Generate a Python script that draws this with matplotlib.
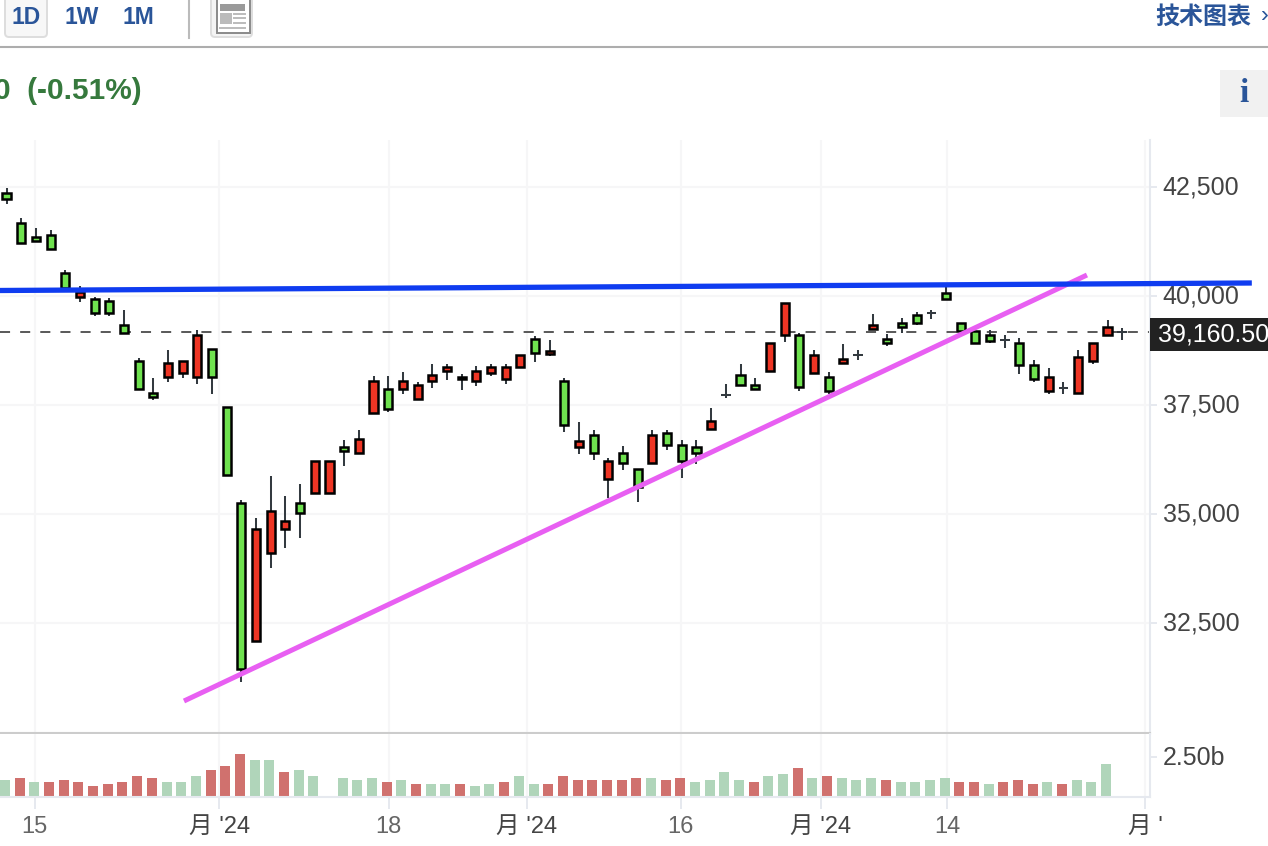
import matplotlib
matplotlib.use('Agg')
import matplotlib.pyplot as plt
from matplotlib.patches import Rectangle, FancyBboxPatch
from matplotlib.transforms import ScaledTranslation

plt.rcParams['font.family'] = ['Liberation Sans', 'Noto Sans CJK SC', 'DejaVu Sans']

# =============================================================================
# Daily candles
# =============================================================================
opens = [42350, 41660, 41340, 41390, 40520, 39970, 39920, 39880, 39330, 38500,
         37770, 38140, 38230, 38140, 38780, 37450, 35250, 32090, 34100, 34650,
         35250, 35480, 35480, 36530, 36400, 37310, 37860, 37860, 37630, 38040,
         38270, 38090, 38040, 38230, 38090, 38370, 39010, 38660, 38040, 36530,
         36810, 35800, 36400, 36030, 36170, 36850, 36580, 36530, 36950, 37720,
         38180, 37950, 38270, 39100, 39100, 38230, 38140, 38460, 38640, 39240,
         39010, 39370, 39560, 39600, 40060, 39370, 39190, 39100, 38980, 38920,
         38410, 37820, 37880, 37770, 38500, 39100, 39160]
closes = [42210, 41210, 41250, 41070, 40180, 40080, 39600, 39600, 39140, 37860,
          37680, 38460, 38500, 39100, 38140, 35890, 31450, 34650, 35070, 34840,
          35020, 36210, 36210, 36440, 36720, 38040, 37400, 38040, 37950, 38180,
          38370, 38140, 38270, 38370, 38370, 38640, 38690, 38730, 37040, 36670,
          36400, 36210, 36170, 35620, 36810, 36580, 36210, 36400, 37130, 37720,
          37950, 37860, 38920, 39830, 37910, 38640, 37820, 38550, 38640, 39330,
          38920, 39280, 39370, 39600, 39920, 39190, 38920, 38960, 38980, 38410,
          38090, 38140, 37880, 38590, 38920, 39280, 39160]
highs = [42470, 41780, 41550, 41500, 40590, 40220, 39970, 39950, 39670, 38570,
         38110, 38750, 38500, 39210, 38780, 37450, 35320, 34910, 35870, 35410,
         35690, 36210, 36210, 36690, 36920, 38160, 38160, 38250, 38020, 38430,
         38430, 38200, 38390, 38430, 38430, 38640, 39080, 38980, 38110, 37100,
         36920, 36280, 36560, 36030, 36920, 36920, 36690, 36690, 37430, 37980,
         38430, 38110, 38920, 39830, 39140, 38750, 38250, 38890, 38750, 39580,
         39120, 39490, 39620, 39670, 40220, 39370, 39190, 39210, 39100, 39030,
         38520, 38340, 38020, 38750, 38920, 39440, 39260]
lows = [42100, 41210, 41250, 41070, 40180, 39850, 39530, 39530, 39140, 37860,
        37610, 38020, 38110, 37980, 37750, 35890, 31150, 32090, 33760, 34220,
        34450, 35480, 35480, 36100, 36400, 37310, 37330, 37750, 37630, 37880,
        38070, 37840, 37930, 38160, 37980, 38370, 38480, 38620, 36880, 36370,
        36230, 35360, 36000, 35270, 36170, 36460, 35820, 36140, 36950, 37650,
        37950, 37860, 38270, 38940, 37820, 38230, 37750, 38460, 38520, 39240,
        38850, 39140, 39330, 39470, 39920, 39190, 38920, 38920, 38800, 38200,
        38020, 37750, 37750, 37770, 38430, 39100, 38980]

# volume in billions, 0 where no bar is drawn
volumes = [1.08, 1.21, 0.95, 0.95, 1.08, 0.95, 0.70, 0.83, 0.95, 1.33,
           1.21, 0.95, 0.95, 1.33, 1.72, 1.97, 2.73, 2.35, 2.35, 1.59,
           1.72, 1.33, 0, 1.21, 1.08, 1.21, 0.95, 1.08, 0.83, 0.83,
           0.83, 0.83, 0.70, 0.83, 0.95, 1.33, 0.83, 0.83, 1.33, 1.08,
           1.08, 1.08, 1.08, 1.21, 1.21, 1.08, 1.21, 0.95, 1.08, 1.59,
           1.08, 0.95, 1.33, 1.46, 1.84, 1.21, 1.33, 1.21, 1.08, 1.21,
           1.08, 0.95, 0.95, 1.08, 1.21, 0.95, 0.95, 0.83, 0.95, 1.08,
           0.83, 0.95, 0.83, 1.08, 0.95, 2.10, 0]
volume_up = [0, 1, 0, 1, 1, 1, 1, 1, 1, 1,
             1, 0, 0, 0, 1, 1, 1, 0, 0, 1,
             0, 0, 0, 0, 0, 0, 1, 0, 1, 0,
             0, 1, 0, 0, 1, 0, 0, 1, 1, 1,
             1, 1, 1, 1, 0, 1, 1, 0, 0, 0,
             0, 1, 0, 0, 1, 0, 1, 0, 0, 0,
             1, 0, 0, 0, 0, 1, 1, 0, 1, 1,
             1, 0, 1, 0, 0, 0, 0]

price_ticks = [42500, 40000, 37500, 35000, 32500]
price_labels = ['42,500', '40,000', '37,500', '35,000', '32,500']
date_ticks = [1.93, 14.48, 26.03, 35.43, 45.93, 55.48, 64.06, 77.58]
date_labels = ['15', "月 '24", '18', "月 '24", '16', "月 '24", '14', "月 '"]

last_price = 39160.5
pink_x = [12.09, 73.6]
pink_y = [30713, 40473]
blue_x = [-0.443, 84.83]
blue_y = [40118, 40290]

# =============================================================================
# Colours
# =============================================================================
RED = '#ee3524'
GREEN = '#6fe24f'
VOL_RED = '#d0716e'
VOL_GREEN = '#b0d5ba'
GRID = '#f6f6f7'
AXIS = '#e6e9ef'
BLUE_TXT = '#2a5599'
W, H = 1268, 846


def px_axes(left, top, right, bottom):
    return fig.add_axes([left/W, 1 - bottom/H, (right - left)/W, (bottom - top)/H])


fig = plt.figure(figsize=(W/100, H/100), dpi=100)
nudge_up = ScaledTranslation(0, 2/100, fig.dpi_scale_trans)

# =============================================================================
# Page furniture around the chart
# =============================================================================
page = px_axes(0, 0, W, H)
page.set_xlim(0, W)
page.set_ylim(H, 0)
page.axis('off')

page.add_patch(FancyBboxPatch((5, -8), 42, 45, boxstyle='round,pad=0,rounding_size=4',
                              fc='#f7f7f7', ec='#dddddd', lw=1.4))
for label, cx in zip(['1D', '1W', '1M'], [26, 82, 138]):
    page.text(cx, 17.5, label, color=BLUE_TXT, fontsize=16.5, fontweight='bold', ha='center', va='center')
page.plot([189, 189], [0, 38], color='#bbbbbb', lw=1.5)
page.add_patch(FancyBboxPatch((211, -8), 41, 45, boxstyle='round,pad=0,rounding_size=4',
                              fc='#f4f4f4', ec='#dddddd', lw=1.4))
page.add_patch(Rectangle((217, -2), 33, 35, fc='white', ec='#8a8a8a', lw=1.4))
page.add_patch(Rectangle((220, 4), 25, 7, fc='#9a9a9a', ec='none'))
page.add_patch(Rectangle((220, 13), 12, 11, fc='#bbbbbb', ec='none'))
for y in [14.5, 18.5, 23]:
    page.plot([234, 245], [y, y], color='#bbbbbb', lw=1.4)
page.plot([220, 245], [28.5, 28.5], color='#bbbbbb', lw=1.4)
page.plot([0, W], [47, 47], color='#adadad', lw=1.5)

page.text(1155, 17, '技术图表', color=BLUE_TXT, fontsize=17.3, fontweight='bold', va='center')
page.text(1261, 16, '›', color=BLUE_TXT, fontsize=17, va='center')
page.text(142, 91, '0  (-0.51%)', color='#36793d', fontsize=21.5, fontweight='bold', ha='right', va='center')
page.add_patch(Rectangle((1220, 70), 48, 47.5, fc='#f1f1f1', ec='none'))
page.text(1244, 94, 'i', color=BLUE_TXT, fontsize=24, fontweight='bold', family='Liberation Serif',
          ha='center', va='center')

# =============================================================================
# Price panel
# =============================================================================
ax = px_axes(0, 140, 1150, 733)
ax.patch.set_alpha(0)
ax.set_xlim(-0.443, 77.894)
ax.set_ylim(29980, 43566)
ax.set_axisbelow(True)
ax.grid(True, color=GRID, lw=1.5)
ax.set_xticks(date_ticks)
ax.tick_params(axis='x', length=0, labelbottom=False)
ax.yaxis.tick_right()
ax.set_yticks(price_ticks, price_labels)
ax.tick_params(axis='y', length=5, width=1.4, color=AXIS, labelsize=18, labelcolor='#444444', pad=4)
for tick in ax.get_yticklabels():
    tick.set_transform(tick.get_transform() + nudge_up)
for side in ['top', 'left']:
    ax.spines[side].set_visible(False)
ax.spines['bottom'].set_color('#cccccc')
ax.spines['bottom'].set_linewidth(1.5)
ax.spines['right'].set_color(AXIS)
ax.spines['right'].set_linewidth(1.5)

ax.axhline(last_price, color='#444444', lw=1.25, dashes=(5.8, 5.8), zorder=1)

for i, (o, c, hi, lo) in enumerate(zip(opens, closes, highs, lows)):
    ax.vlines(i, lo, hi, color='#333a40', lw=1.45, zorder=2)
    if o == c:
        ax.hlines(o, i - 0.33, i + 0.33, color='#333a40', lw=1.45, zorder=2)
    else:
        ax.bar(i, abs(c - o), bottom=min(o, c), width=0.55, color=RED if c > o else GREEN,
               edgecolor='black', linewidth=1.8, zorder=3)

ax.plot(pink_x, pink_y, color='#e85ff2', lw=3.6, solid_capstyle='butt', zorder=5)
ax.plot(blue_x, blue_y, color='#0f3cf0', lw=3.8, solid_capstyle='butt', zorder=6, clip_on=False)

# last price flag on the axis, it hangs a little below the dashed line
ax.add_patch(Rectangle((1, last_price - 430), 0.12, 756, transform=ax.get_yaxis_transform(),
                       fc='#222222', ec='none', clip_on=False, zorder=7))
ax.text(1 + 8/1150, last_price - 55, '39,160.50', transform=ax.get_yaxis_transform(), color='white',
        fontsize=18, va='center', zorder=8)

# =============================================================================
# Volume panel
# =============================================================================
vax = px_axes(0, 734, 1150, 796.5)
vax.set_xlim(-0.443, 77.894)
vax.set_ylim(0, 4.0)
vax.set_axisbelow(True)
vax.grid(True, axis='x', color=GRID, lw=1.5)
# volume bars sit a touch left of the candles
vax.bar([i - 0.1 for i in range(len(volumes))], volumes, width=0.68,
        color=[VOL_RED if u else VOL_GREEN for u in volume_up], zorder=2)
vax.set_xticks(date_ticks, date_labels)
vax.tick_params(axis='x', length=8.5, width=1.4, color=AXIS, labelsize=17, pad=5.5)
for tick, label in zip(vax.get_xticklabels(), date_labels):
    tick.set_color('#444444' if '月' in label else '#666666')
vax.yaxis.tick_right()
vax.set_yticks([2.5], ['2.50b'])
vax.tick_params(axis='y', length=5, width=1.4, color=AXIS, labelsize=18, labelcolor='#444444', pad=4)
for tick in vax.get_yticklabels():
    tick.set_transform(tick.get_transform() + nudge_up)
for side in ['top', 'left']:
    vax.spines[side].set_visible(False)
vax.spines['bottom'].set_color(AXIS)
vax.spines['bottom'].set_linewidth(1.5)
vax.spines['right'].set_color(AXIS)
vax.spines['right'].set_linewidth(1.5)

fig.savefig('out.png', dpi=100)
